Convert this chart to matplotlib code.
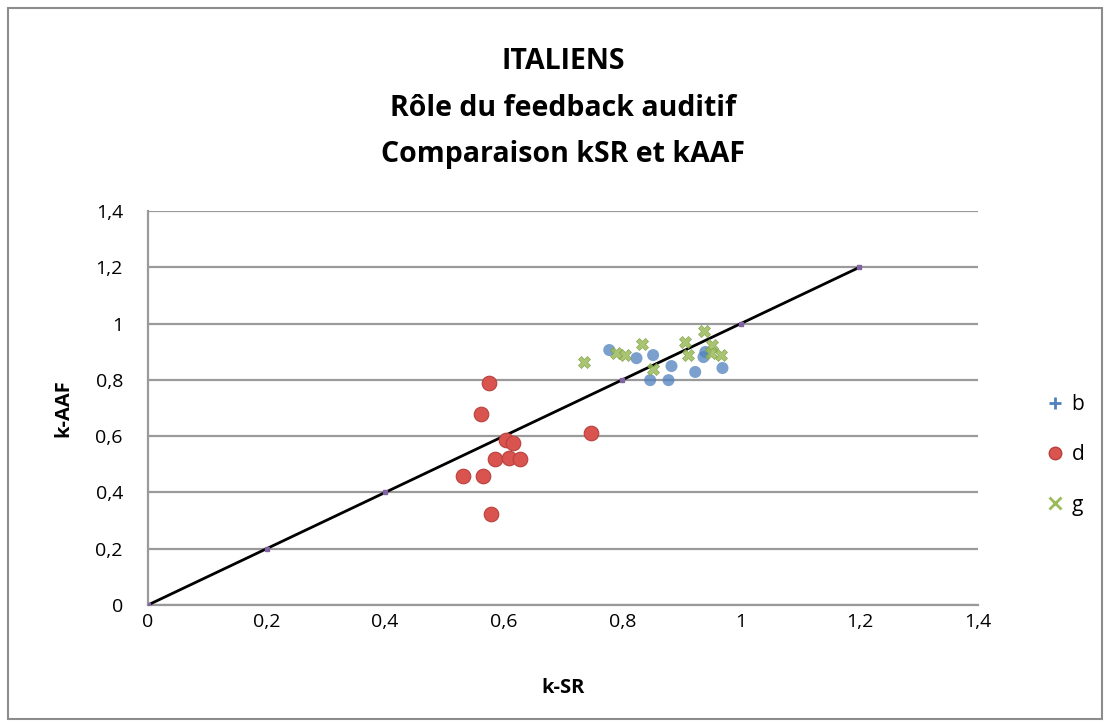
import matplotlib.pyplot as plt
from matplotlib.lines import Line2D
from matplotlib.patches import Rectangle

plt.rcParams['font.family'] = ['Open Sans', 'DejaVu Sans']

# donnees
b_x = [0.778, 0.824, 0.852, 0.883, 0.847, 0.878, 0.923, 0.937, 0.940, 0.969]
b_y = [0.906, 0.877, 0.888, 0.849, 0.799, 0.799, 0.828, 0.881, 0.899, 0.842]

d_x = [0.575, 0.562, 0.748, 0.604, 0.616, 0.586, 0.609, 0.628, 0.565, 0.532, 0.578]
d_y = [0.790, 0.678, 0.611, 0.588, 0.577, 0.518, 0.524, 0.518, 0.460, 0.460, 0.325]

g_x = [0.735, 0.790, 0.804, 0.834, 0.905, 0.910, 0.937, 0.952, 0.950, 0.967, 0.851]
g_y = [0.863, 0.895, 0.888, 0.927, 0.934, 0.888, 0.973, 0.924, 0.895, 0.888, 0.838]

ref_x = [0, 0.2, 0.4, 0.6, 0.8, 1.0, 1.2]
ref_y = [0, 0.2, 0.4, 0.6, 0.8, 1.0, 1.2]

ticks = [0, 0.2, 0.4, 0.6, 0.8, 1.0, 1.2, 1.4]
tick_labels = ['0', '0,2', '0,4', '0,6', '0,8', '1', '1,2', '1,4']

BLUE = '#4F81BD'
RED = '#D9534F'
GREEN = '#9BBB59'
PURPLE = '#8064A2'

fig = plt.figure(figsize=(11.1, 7.27), dpi=100)
ax = fig.add_axes([148 / 1110, 1 - 605 / 727, 830 / 1110, 394 / 727])

ax.plot(ref_x, ref_y, color='black', lw=2, marker='s', ms=3,
        mfc=PURPLE, mec=PURPLE, zorder=3)
ax.scatter(b_x, b_y, s=75, color=BLUE, alpha=0.75, edgecolors='none', zorder=4)
ax.scatter(g_x, g_y, s=75, marker='X', color=GREEN, alpha=0.85,
           edgecolors='#7f9e45', linewidths=0.5, zorder=4)
ax.scatter(d_x, d_y, s=110, color=RED, edgecolors='#b8403c', linewidths=0.8, zorder=5)

ax.set_xlim(0, 1.4)
ax.set_ylim(0, 1.4)
ax.set_xticks(ticks)
ax.set_xticklabels(tick_labels)
ax.set_yticks(ticks)
ax.set_yticklabels(tick_labels)
ax.tick_params(axis='x', labelsize=14, length=0, pad=6)
ax.tick_params(axis='y', labelsize=14, length=0, pad=18)
ax.grid(axis='y', color='#9a9a9a', lw=1.6)
ax.set_axisbelow(True)
for s in ['top', 'right']:
    ax.spines[s].set_visible(False)
for s in ['left', 'bottom']:
    ax.spines[s].set_color('#9a9a9a')
    ax.spines[s].set_linewidth(1.6)

ax.set_xlabel('k-SR', fontsize=14.5, fontweight='bold')
ax.set_ylabel('k-AAF', fontsize=14.5, fontweight='bold')
ax.xaxis.set_label_coords(0.5, -0.185)
ax.yaxis.set_label_coords(-0.090, 0.5)

fig.text(563 / 1110, 1 - 108 / 727,
         'ITALIENS\nRôle du feedback auditif\nComparaison kSR et kAAF',
         ha='center', va='center', fontsize=20.5, fontweight='bold',
         linespacing=1.78)

handles = [
    Line2D([], [], ls='none', marker='+', color=BLUE, ms=9, mew=2),
    Line2D([], [], ls='none', marker='o', color=RED, mec='#b8403c', ms=9),
    Line2D([], [], ls='none', marker='x', color=GREEN, ms=8, mew=2),
]
fig.legend(handles, ['b', 'd', 'g'], loc='center left',
           bbox_to_anchor=(1030 / 1110, 1 - 455 / 727), frameon=False,
           fontsize=15, handlelength=0.6, handletextpad=0.5, labelspacing=1.4)

fig.add_artist(Rectangle((8 / 1110, 8 / 727), 1094 / 1110, 711 / 727,
                         transform=fig.transFigure, fill=False,
                         ec='#8c8c8c', lw=1.5))

fig.savefig('out.png', dpi=100)
